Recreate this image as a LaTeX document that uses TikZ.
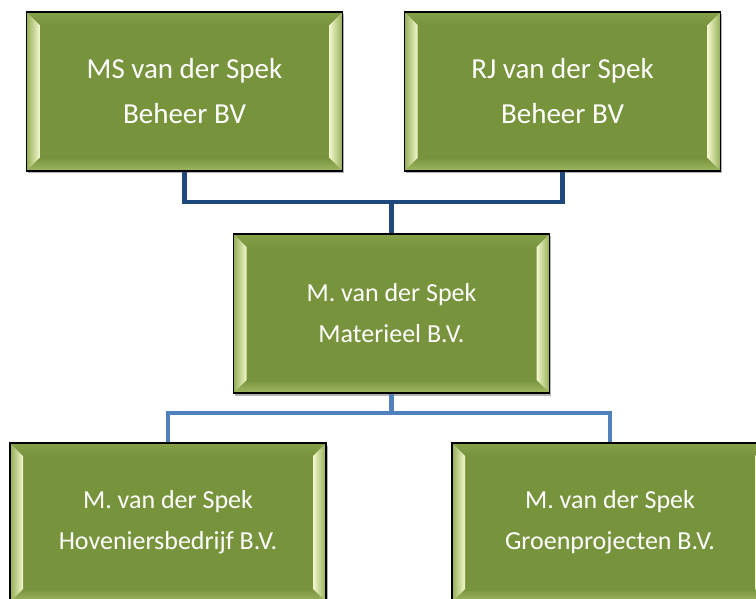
\documentclass[tikz,border=0pt]{standalone}
\usepackage{fontspec}
\setmainfont{Carlito}
\usetikzlibrary{shadows}
\definecolor{boxgreen}{HTML}{77933C}
\definecolor{bevlight}{HTML}{F2F7CC}
\definecolor{bevmid}{HTML}{93AE55}
\definecolor{bevtop}{HTML}{86A048}
\definecolor{bevbot}{HTML}{A0B962}
\definecolor{darkline}{HTML}{1F497D}
\definecolor{lightline}{HTML}{4F81BD}
\newlength{\bvw}\setlength{\bvw}{13pt}
\tikzset{
  bevelbox/.style={draw=black, line width=1.1pt, fill=boxgreen,
    minimum width=316pt, minimum height=159pt, inner sep=0pt,
    text=white, align=center,
    drop shadow={shadow xshift=1.5pt, shadow yshift=-2.5pt, opacity=0.3, fill=black},
    path picture={
      \path (path picture bounding box.south west) coordinate (psw)
            (path picture bounding box.north east) coordinate (pne)
            (path picture bounding box.north west) coordinate (pnw)
            (path picture bounding box.south east) coordinate (pse);
      \shade[top color=bevtop, bottom color=boxgreen] (pnw) -- (pne) -- ++(-\bvw,-\bvw) -- ([shift={(\bvw,-\bvw)}]pnw) -- cycle;
      \shade[bottom color=bevbot, top color=boxgreen] (psw) -- (pse) -- ++(-\bvw,\bvw) -- ([shift={(\bvw,\bvw)}]psw) -- cycle;
      \shade[left color=bevmid, right color=bevlight] (psw) -- (pnw) -- ++(\bvw,-\bvw) -- ([shift={(\bvw,\bvw)}]psw) -- cycle;
      \shade[right color=bevmid, left color=bevlight] (pse) -- (pne) -- ++(-\bvw,-\bvw) -- ([shift={(-\bvw,\bvw)}]pse) -- cycle;
    }},
  bigtext/.style={font=\fontsize{29}{45}\selectfont},
  smalltext/.style={font=\fontsize{26}{41}\selectfont},
  topline/.style={draw=darkline, line width=4.5pt},
  lowline/.style={draw=lightline, line width=4.5pt},
}
\begin{document}
\begin{tikzpicture}[x=1pt, y=-1pt]
\useasboundingbox (0,0) rectangle (756,599);
\node[bevelbox, bigtext] (ms) at (184.5,91.5) {MS van der Spek\\Beheer BV};
\node[bevelbox, bigtext] (rj) at (562.5,91.5) {RJ van der Spek\\Beheer BV};
\node[bevelbox, smalltext] (mat) at (391.5,313.5) {M. van der Spek\\Materieel B.V.};
\node[bevelbox, smalltext] (hov) at (168,522.5) {M. van der Spek\\Hoveniersbedrijf B.V.};
\node[bevelbox, smalltext] (gro) at (610,522.5) {M. van der Spek\\Groenprojecten B.V.};
\coordinate (j1) at (391.5,202);
\coordinate (j2) at (391.5,413);
\draw[topline] (ms.south) -- (ms.south |- j1) -- (rj.south |- j1) -- (rj.south);
\draw[topline] (j1) -- (mat.north);
\draw[lowline] (mat.south) -- (j2);
\draw[lowline] (hov.north) -- (hov.north |- j2) -- (gro.north |- j2) -- (gro.north);
\end{tikzpicture}
\end{document}
